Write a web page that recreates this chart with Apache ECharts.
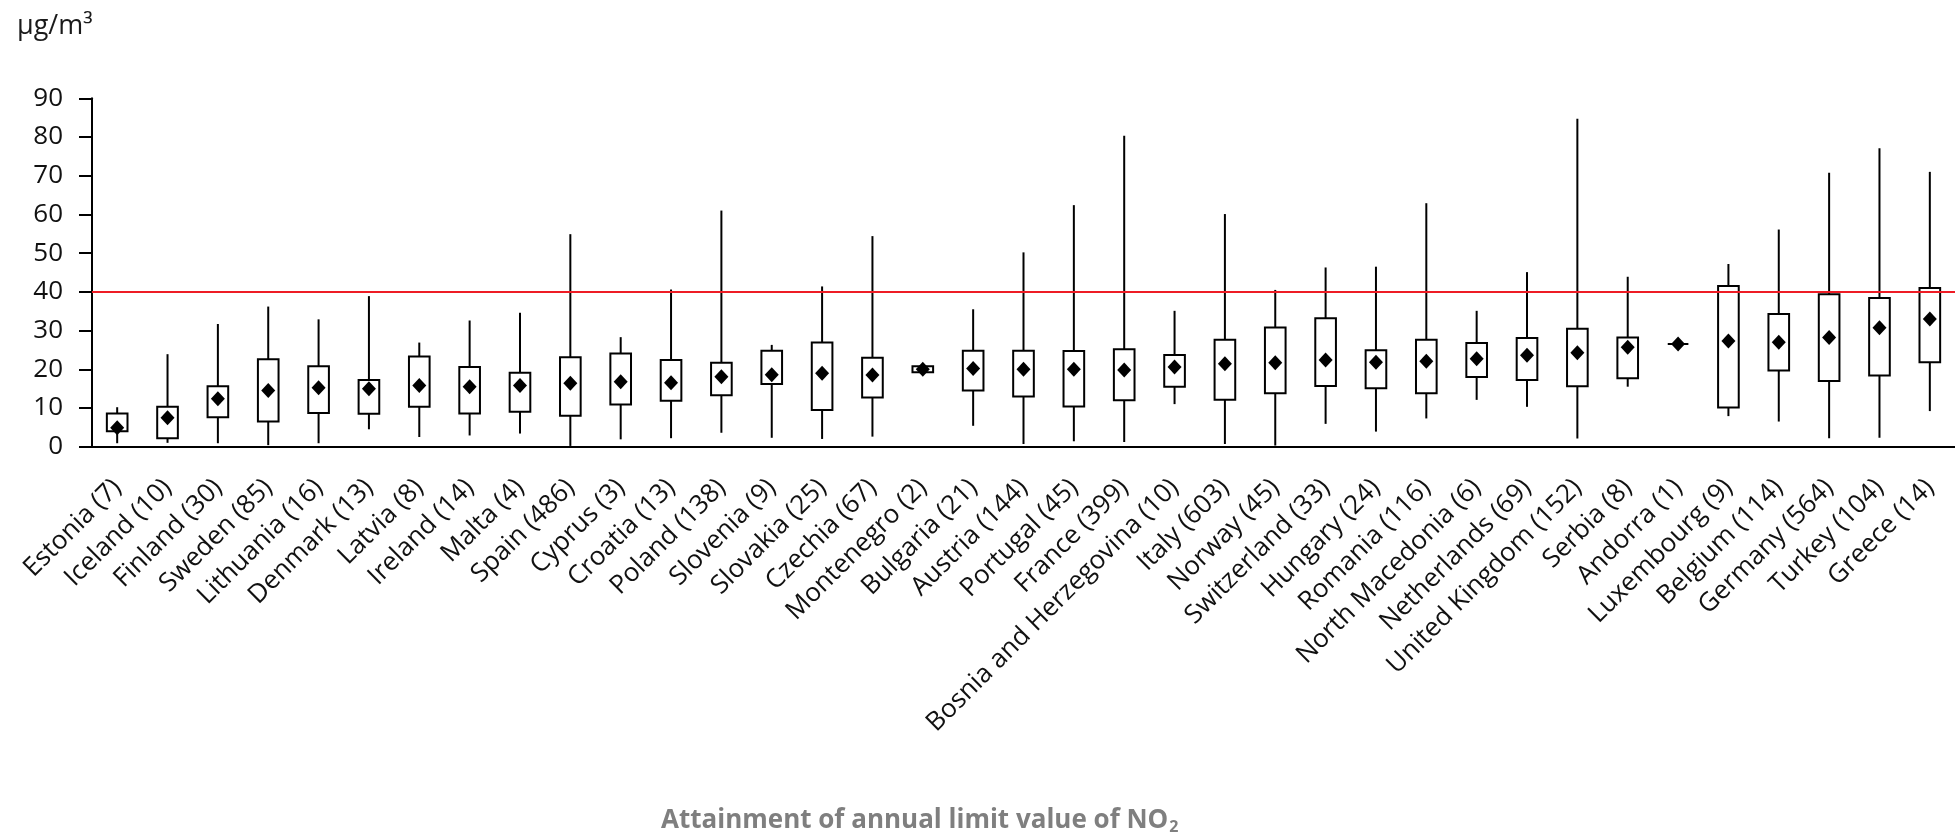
<!DOCTYPE html>
<html>
<head>
<meta charset="utf-8">
<script src="https://cdn.jsdelivr.net/npm/echarts@6/dist/echarts.min.js"></script>
<style>
html,body{margin:0;padding:0;background:#fff;}
#chart{width:1955px;height:833px;}
</style>
</head>
<body>
<div id="chart"></div>
<script>
const categories = ['Estonia (7)','Iceland (10)','Finland (30)','Sweden (85)','Lithuania (16)','Denmark (13)','Latvia (8)','Ireland (14)','Malta (4)','Spain (486)','Cyprus (3)','Croatia (13)','Poland (138)','Slovenia (9)','Slovakia (25)','Czechia (67)','Montenegro (2)','Bulgaria (21)','Austria (144)','Portugal (45)','France (399)','Bosnia and Herzegovina (10)','Italy (603)','Norway (45)','Switzerland (33)','Hungary (24)','Romania (116)','North Macedonia (6)','Netherlands (69)','United Kingdom (152)','Serbia (8)','Andorra (1)','Luxembourg (9)','Belgium (114)','Germany (564)','Turkey (104)','Greece (14)'];
const whiskerLow  = [0.9,1.0,0.9,0.4,0.9,4.5,2.5,2.9,3.4,0.2,1.9,2.2,3.6,2.3,2.0,2.6,19.1,5.4,0.7,1.4,1.2,11.0,0.7,0.3,5.9,3.9,7.3,12.1,10.3,2.1,15.5,26.5,7.9,6.5,2.2,2.3,9.2];
const boxLow      = [4.0,2.2,7.6,6.5,8.7,8.5,10.3,8.6,9.0,8.0,10.9,11.9,13.3,16.2,9.5,12.7,19.2,14.5,13.0,10.4,12.0,15.5,12.1,13.8,15.7,15.1,13.8,18.0,17.2,15.6,17.7,26.5,10.1,19.7,17.0,18.4,21.8];
const boxHigh     = [8.6,10.3,15.6,22.6,20.8,17.2,23.3,20.6,19.1,23.1,24.1,22.4,21.7,24.8,26.9,23.0,20.8,24.8,24.8,24.7,25.2,23.7,27.6,30.8,33.2,24.9,27.6,26.8,28.1,30.5,28.2,26.5,41.5,34.3,39.4,38.4,41.0];
const whiskerHigh = [10.2,23.9,31.7,36.2,32.9,38.9,26.9,32.6,34.6,54.9,28.3,40.6,61.0,26.3,41.4,54.4,20.9,35.5,50.2,62.4,80.3,35.1,60.1,40.5,46.3,46.5,62.9,35.1,45.1,84.7,43.9,26.5,47.2,56.1,70.8,77.1,71.0];
const meanValues  = [4.9,7.5,12.4,14.5,15.2,15.0,15.8,15.5,15.8,16.4,16.8,16.5,18.1,18.6,19.0,18.5,20.0,20.2,20.0,20.0,19.8,20.6,21.4,21.7,22.4,21.8,22.1,22.7,23.6,24.3,25.7,26.5,27.3,27.0,28.2,30.7,33.0];
const limitValue = 40;
const yMin = 0, yMax = 90, yInterval = 10;
const unitLabel = 'μg/m³';
const chartTitle = 'Attainment of annual limit value of NO';

const boxData = categories.map((c, i) => [i, whiskerLow[i], boxLow[i], boxHigh[i], whiskerHigh[i]]);
const meanData = categories.map((c, i) => [i, meanValues[i]]);

const FONT = '"Open Sans", "Noto Sans", sans-serif';

const chart = echarts.init(document.getElementById('chart'), null, {renderer: 'canvas'});
chart.setOption({
  animation: false,
  backgroundColor: '#ffffff',
  textStyle: {fontFamily: FONT},
  title: [
    {text: unitLabel, left: 12, top: 8, textStyle: {fontFamily: FONT, fontSize: 27, fontWeight: 'normal', color: '#1a1a1a'}},
    {text: '{a|' + chartTitle + '}{b|2}', left: 656, top: 801,
     textStyle: {fontFamily: FONT, rich: {
       a: {fontFamily: FONT, fontSize: 26, fontWeight: 'bold', color: '#7f7f7f'},
       b: {fontFamily: FONT, fontSize: 16, fontWeight: 'bold', color: '#7f7f7f', padding: [13, 0, 0, 1]}
     }}}
  ],
  grid: {left: 92, right: -5, top: 98.3, bottom: 386.3, containLabel: false},
  xAxis: {
    type: 'category',
    data: categories,
    boundaryGap: true,
    axisLine: {lineStyle: {color: '#000', width: 2}},
    axisTick: {length: 13, lineStyle: {color: '#000', width: 2}},
    axisLabel: {rotate: 45, interval: 0, margin: 37, fontSize: 26, color: '#111', fontFamily: FONT},
    splitLine: {show: false}
  },
  yAxis: {
    type: 'value',
    min: yMin, max: yMax, interval: yInterval,
    axisLine: {show: true, lineStyle: {color: '#000', width: 2}},
    axisTick: {show: true, length: 13, lineStyle: {color: '#000', width: 2}},
    axisLabel: {margin: 29, fontSize: 26, color: '#111', fontFamily: FONT},
    splitLine: {show: false}
  },
  series: [
    {
      type: 'custom',
      data: boxData,
      encode: {x: 0, y: [1, 2, 3, 4]},
      z: 2,
      renderItem: function (params, api) {
        const idx = api.value(0);
        const pLow = api.coord([idx, api.value(1)]);
        const pQ1 = api.coord([idx, api.value(2)]);
        const pQ3 = api.coord([idx, api.value(3)]);
        const pHigh = api.coord([idx, api.value(4)]);
        const bw = api.size([1, 0])[0] * 0.41;
        return {
          type: 'group',
          children: [
            {type: 'line', shape: {x1: pLow[0], y1: pLow[1], x2: pHigh[0], y2: pHigh[1]},
             style: {stroke: '#000', lineWidth: 2}},
            {type: 'rect', shape: {x: pQ3[0] - bw / 2, y: pQ3[1], width: bw, height: pQ1[1] - pQ3[1]},
             style: {fill: '#fff', stroke: '#000', lineWidth: 2}}
          ]
        };
      }
    },
    {
      type: 'scatter',
      data: meanData,
      symbol: 'diamond',
      symbolSize: [14, 15],
      itemStyle: {color: '#000', opacity: 1},
      z: 3,
      markLine: {
        silent: true,
        symbol: ['none', 'none'],
        label: {show: false},
        lineStyle: {color: '#ee1c25', width: 2, type: 'solid', opacity: 1},
        data: [{yAxis: limitValue}],
        z: 5
      }
    }
  ]
});
</script>
</body>
</html>
